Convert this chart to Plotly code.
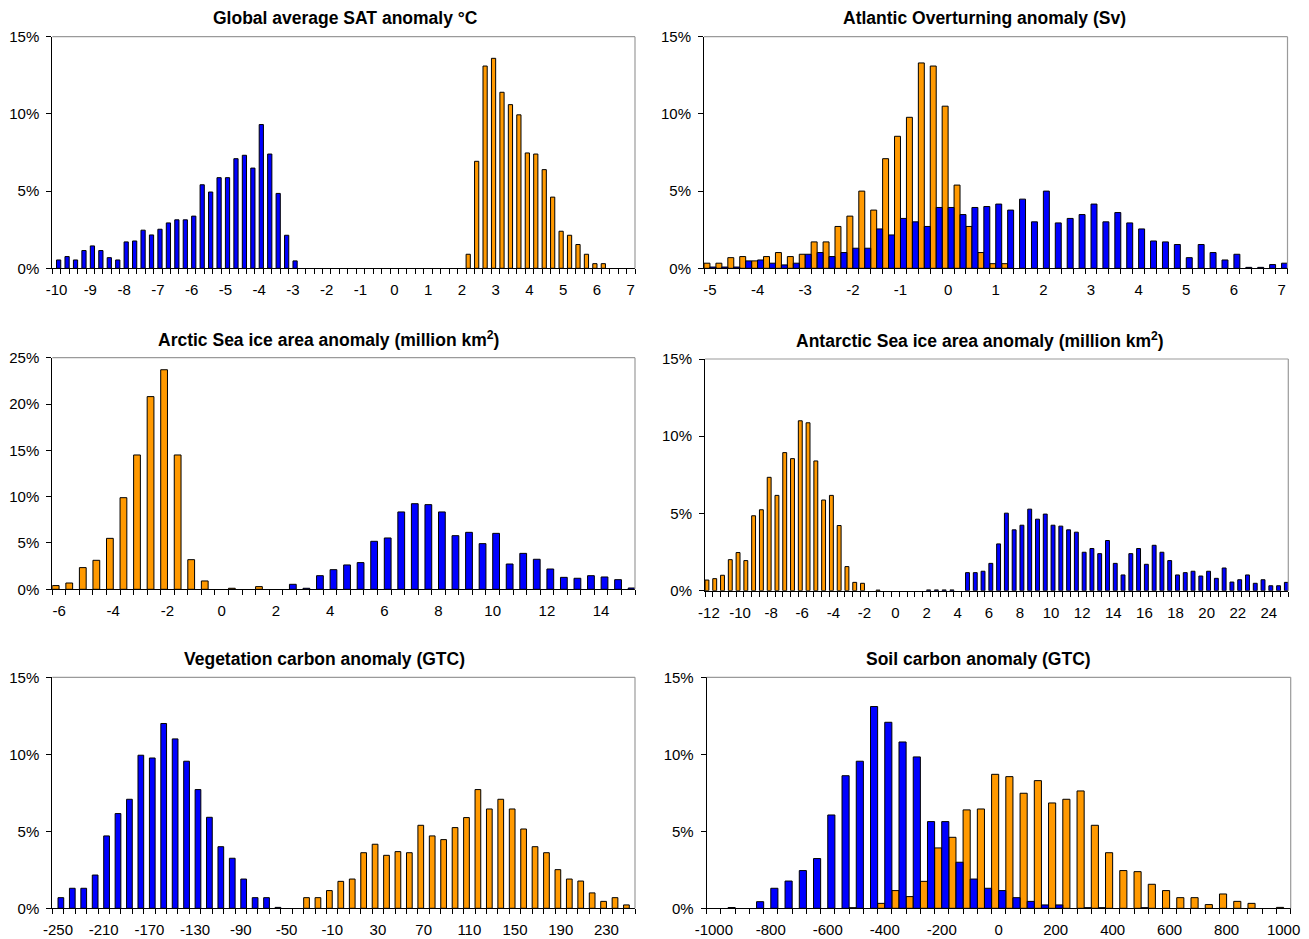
import plotly.graph_objects as go

W, H = 1309, 939
ORANGE = "#FF9900"
BLUE = "#0000FF"
FONT = "Liberation Sans, Arial, sans-serif"

# ---------------- Global average SAT anomaly (°C) ----------------
sat_bins = [-10 + 0.25 * i for i in range(69)]
sat_ticks = list(range(-10, 8))
sat_warming_from = 2.25
sat_warming = [0.91, 6.93, 13.1, 13.6, 11.4, 10.6, 9.94, 7.47, 7.40, 6.39,
               4.61, 2.40, 2.14, 1.54, 0.91, 0.30, 0.30]
sat_cooling_from = -10.0
sat_cooling = [0.54, 0.76, 0.54, 1.15, 1.45, 1.15, 0.69, 0.54, 1.71, 1.77,
               2.47, 2.16, 2.53, 2.94, 3.14, 3.14, 3.38, 5.41, 4.94, 5.87,
               5.87, 7.10, 7.32, 6.49, 9.31, 7.40, 4.85, 2.14, 0.48]

# ---------------- Atlantic overturning anomaly (Sv) ----------------
amoc_bins = [-5 + 0.25 * i for i in range(49)]
amoc_ticks = list(range(-5, 8))
amoc_warming_from = -5.0
amoc_warming = [0.33, 0.33, 0.69, 0.76, 0.48, 0.76, 1.02, 0.76, 0.91, 1.71,
                1.71, 2.71, 3.38, 5.00, 3.77, 7.10, 8.55, 9.78, 13.3, 13.1,
                10.5, 5.39, 2.71, 1.02, 0.30, 0.30]
amoc_cooling_from = -5.0
amoc_cooling = [0.08, 0.08, 0.08, 0.48, 0.54, 0.33, 0.22, 0.33, 0.91, 1.02,
                0.76, 1.02, 1.30, 1.30, 2.55, 2.16, 3.23, 3.01, 2.71, 3.94,
                3.94, 3.48, 3.94, 4.00, 4.16, 3.77, 4.48, 3.01, 5.00, 2.94,
                3.23, 3.48, 4.16, 3.01, 3.61, 2.94, 2.55, 1.77, 1.71, 1.54,
                0.69, 1.54, 1.02, 0.54, 0.91, 0.06, 0.06, 0.24, 0.33]

# ---------------- Arctic sea ice area anomaly ----------------
arctic_bins = [-6 + 0.5 * i for i in range(43)]
arctic_ticks = list(range(-6, 15, 2))
arctic_warming_from = -6.0
arctic_warming = [0.40, 0.68, 2.34, 3.13, 5.50, 9.89, 14.5, 20.8, 23.7, 14.5,
                  3.20, 0.90, 0.0, 0.11, 0.0, 0.29]
arctic_cooling_from = 2.5
arctic_cooling = [0.54, 0.11, 1.47, 2.12, 2.63, 2.88, 5.18, 5.54, 8.35, 9.24,
                  9.14, 8.35, 5.79, 6.15, 4.93, 6.04, 2.73, 3.88, 3.24, 2.19,
                  1.29, 1.19, 1.47, 1.33, 1.04, 0.14]

# ---------------- Antarctic sea ice area anomaly ----------------
antarctic_bins = [-12 + 0.5 * i for i in range(75)]
antarctic_ticks = list(range(-12, 25, 2))
antarctic_warming_from = -12.0
antarctic_warming = [0.69, 0.78, 1.00, 2.01, 2.47, 1.95, 4.85, 5.24, 7.34, 6.17,
                     8.94, 8.55, 11.0, 10.87, 8.40, 5.87, 6.17, 4.22, 1.56, 0.54,
                     0.48, 0.0, 0.04]
antarctic_cooling_from = 2.0
antarctic_cooling = [0.05, 0.05, 0.05, 0.05, 0.0,
                     1.17, 1.17, 1.26, 1.77, 3.03, 5.02, 3.94, 4.24, 5.28, 4.63,
                     4.96, 4.24, 4.18, 3.94, 3.79, 2.49, 2.73, 2.40, 3.25, 1.77,
                     1.02, 2.40, 2.73, 1.71, 2.94, 2.49, 1.95, 1.02, 1.17, 1.26,
                     0.95, 1.26, 0.80, 1.47, 0.56, 0.71, 1.02, 0.48, 0.71, 0.32,
                     0.32, 0.54]

# ---------------- Vegetation carbon anomaly (GTC) ----------------
veg_bins = [-250 + 10 * i for i in range(51)]
veg_ticks = list(range(-250, 240, 40))
veg_warming_from = -30
veg_warming = [0.69, 0.69, 1.15, 1.75, 1.90, 3.61, 4.16, 3.44, 3.68, 3.61,
               5.39, 4.70, 4.46, 5.24, 5.89, 7.71, 6.45, 7.08, 6.45, 5.15,
               4.00, 3.61, 2.51, 1.90, 1.77, 1.00, 0.45, 0.69, 0.22]
veg_cooling_from = -250
veg_cooling = [0.69, 1.30, 1.30, 2.16, 4.70, 6.15, 7.08, 9.94, 9.76, 12.0,
               11.0, 9.55, 7.71, 5.91, 4.00, 3.25, 1.90, 0.69, 0.69, 0.06]

# ---------------- Soil carbon anomaly (GTC) ----------------
soil_bins = [-1000 + 50 * i for i in range(41)]
soil_ticks = list(range(-1000, 1001, 200))
soil_warming_from = -500
soil_warming = [0.04, 0.0, 0.32, 1.15, 0.76, 1.75, 3.92, 4.61, 6.39, 6.45,
                8.70, 8.55, 7.47, 8.29, 6.84, 7.08, 7.62, 5.39, 3.61, 2.45,
                2.38, 1.56, 1.15, 0.69, 0.69, 0.24, 0.93, 0.45, 0.32, 0.0,
                0.06]
soil_cooling_from = -950
soil_cooling = [0.05, 0.0, 0.43, 1.30, 1.77, 2.45, 3.23, 6.06, 8.61, 9.55,
                13.1, 12.08, 10.8, 9.83, 5.63, 5.63, 2.99, 1.90, 1.30, 1.15,
                0.69, 0.45, 0.22, 0.22, 0.0, 0.04, 0.04, 0.0, 0.0, 0.04]

panels = [
    dict(title="Global average SAT anomaly °C", bins=sat_bins, step=0.25,
         ticks=sat_ticks, ymax=15,
         warming=(sat_warming_from, sat_warming),
         cooling=(sat_cooling_from, sat_cooling),
         box=(52.3, 36.7, 635.0, 268.3), title_at=(345, 18)),
    dict(title="Atlantic Overturning anomaly (Sv)", bins=amoc_bins, step=0.25,
         ticks=amoc_ticks, ymax=15,
         warming=(amoc_warming_from, amoc_warming),
         cooling=(amoc_cooling_from, amoc_cooling),
         box=(704.0, 36.7, 1287.5, 268.3), title_at=(984, 18)),
    dict(title="Arctic Sea ice area anomaly (million km<sup>2</sup>)",
         bins=arctic_bins, step=0.5, ticks=arctic_ticks, ymax=25,
         warming=(arctic_warming_from, arctic_warming),
         cooling=(arctic_cooling_from, arctic_cooling),
         box=(52.3, 357.7, 635.0, 589.3), title_at=(328, 339)),
    dict(title="Antarctic Sea ice area anomaly (million km<sup>2</sup>)",
         bins=antarctic_bins, step=0.5, ticks=antarctic_ticks, ymax=15,
         warming=(antarctic_warming_from, antarctic_warming),
         cooling=(antarctic_cooling_from, antarctic_cooling),
         box=(705.0, 359.0, 1288.3, 590.7), title_at=(980, 340)),
    dict(title="Vegetation carbon anomaly (GTC)", bins=veg_bins, step=10,
         ticks=veg_ticks, ymax=15,
         warming=(veg_warming_from, veg_warming),
         cooling=(veg_cooling_from, veg_cooling),
         box=(52.3, 677.3, 635.0, 908.3), title_at=(324, 659)),
    dict(title="Soil carbon anomaly (GTC)", bins=soil_bins, step=50,
         ticks=soil_ticks, ymax=15,
         warming=(soil_warming_from, soil_warming),
         cooling=(soil_cooling_from, soil_cooling),
         box=(706.7, 677.3, 1290.7, 908.3), title_at=(978, 659)),
]

fig = go.Figure()
layout = {}
shapes = []
annotations = []

for i, p in enumerate(panels, start=1):
    sfx = "" if i == 1 else str(i)
    xa, ya = "x" + sfx, "y" + sfx
    step = p["step"]

    # Clustered columns: warming run on the left half of each bin, cooling on the right
    for (start, vals), color, side in ((p["warming"], ORANGE, -1),
                                       (p["cooling"], BLUE, 0)):
        xs = [start + step * j for j, v in enumerate(vals) if v > 0]
        ys = [v for v in vals if v > 0]
        fig.add_trace(go.Bar(
            x=xs, y=ys, xaxis=xa, yaxis=ya,
            width=step / 2, offset=side * step / 2,
            marker=dict(color=color, line=dict(color="black", width=1)),
            showlegend=False, hoverinfo="skip",
        ))

    x0, y0, x1, y1 = p["box"]
    bins = p["bins"]
    lo, hi = bins[0] - step / 2, bins[-1] + step / 2
    edges = [lo + step * j for j in range(len(bins) + 1)]

    layout["xaxis" + sfx] = dict(
        domain=[x0 / W, x1 / W], anchor=ya, range=[lo, hi],
        tickmode="array", tickvals=p["ticks"],
        ticktext=[str(t) for t in p["ticks"]],
        ticks="", ticklabelstandoff=8, automargin=False,
        minor=dict(tickmode="array", tickvals=edges, ticks="outside",
                   ticklen=5, tickwidth=1, tickcolor="black", showgrid=False),
        showline=True, linecolor="black", linewidth=1,
        showgrid=False, zeroline=False, fixedrange=True,
        tickfont=dict(family=FONT, size=15, color="black"),
    )
    yt = list(range(0, p["ymax"] + 1, 5))
    layout["yaxis" + sfx] = dict(
        domain=[1 - y1 / H, 1 - y0 / H], anchor=xa, range=[0, p["ymax"]],
        tickmode="array", tickvals=yt, ticktext=[f"{t}%" for t in yt],
        ticks="outside", ticklen=5, tickwidth=1, tickcolor="black",
        ticklabelstandoff=4, automargin=False,
        showline=True, linecolor="black", linewidth=1,
        showgrid=False, zeroline=False, fixedrange=True,
        tickfont=dict(family=FONT, size=15, color="black"),
    )

    # grey frame on the top and right of the plot area
    for (ax0, ay0, ax1, ay1) in ((0, 1, 1, 1), (1, 0, 1, 1)):
        shapes.append(dict(type="line", xref=xa + " domain", yref=ya + " domain",
                           x0=ax0, y0=ay0, x1=ax1, y1=ay1,
                           line=dict(color="#9a9a9a", width=1.2), layer="above"))

    cx, cy = p["title_at"]
    annotations.append(dict(
        text="<b>" + p["title"] + "</b>", xref="paper", yref="paper",
        x=cx / W, y=1 - cy / H, xanchor="center", yanchor="middle",
        showarrow=False, font=dict(family=FONT, size=17.5, color="black"),
    ))

fig.update_layout(
    width=W, height=H,
    margin=dict(l=0, r=0, t=0, b=0, pad=0, autoexpand=False),
    paper_bgcolor="white", plot_bgcolor="white",
    barmode="overlay", showlegend=False,
    shapes=shapes, annotations=annotations,
    font=dict(family=FONT, color="black"),
    **layout,
)

fig.write_html("out.html")
